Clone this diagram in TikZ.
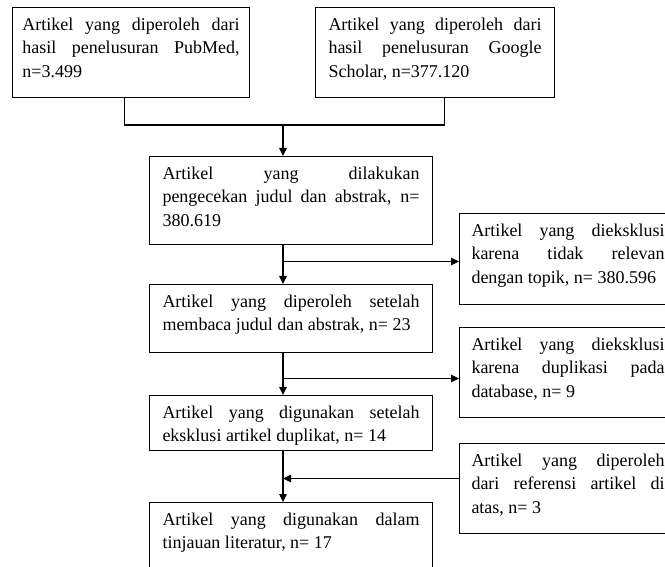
\documentclass[tikz,border=0pt]{standalone}
\usepackage{fontspec}
\setmainfont{Liberation Serif}
\usetikzlibrary{arrows.meta}

\begin{document}
\begin{tikzpicture}[
  x=1pt, y=-1pt,
  flow/.style={draw, line width=1pt, anchor=north west, inner xsep=13pt, inner ysep=10.5pt,
    font=\fontsize{18pt}{23.5pt}\selectfont},
  txt/.style 2 args={execute at begin node={\begin{minipage}[c][#2][t]{#1}},
    execute at end node={\end{minipage}}},
  link/.style={line width=1.1pt},
  arr/.style={link, -{Triangle[length=8pt, width=7.5pt]}}
]
  \useasboundingbox (0,0) rectangle (665,567);

  % sumber pencarian
  \node[flow, inner xsep=10pt, txt={217pt}{69pt}] (pubmed) at (12,7)
    {Artikel yang diperoleh dari\linebreak hasil penelusuran PubMed,\linebreak n=3.499};
  \node[flow, txt={213pt}{69pt}] (scholar) at (315,7)
    {Artikel yang diperoleh dari\linebreak hasil penelusuran Google\linebreak Scholar, n=377.120};

  % alur utama
  \node[flow, txt={257pt}{67pt}] (cek) at (149,156)
    {Artikel yang dilakukan\linebreak pengecekan judul dan abstrak, n=\linebreak 380.619};
  \node[flow, txt={257pt}{47pt}] (baca) at (149,284)
    {Artikel yang diperoleh setelah\linebreak membaca judul dan abstrak, n= 23};
  \node[flow, txt={257pt}{34pt}] (duplikat) at (149,395)
    {Artikel yang digunakan setelah\linebreak eksklusi artikel duplikat, n= 14};
  \node[flow, txt={257pt}{60pt}] (akhir) at (149,502)
    {Artikel yang digunakan dalam\linebreak tinjauan literatur, n= 17};

  % kotak samping
  \node[flow, inner xsep=12pt, txt={193pt}{70pt}] (relevan) at (459,213)
    {Artikel yang dieksklusi\linebreak karena tidak relevan\linebreak dengan topik, n= 380.596};
  \node[flow, inner xsep=12pt, txt={193pt}{69pt}] (dupdb) at (459,327)
    {Artikel yang dieksklusi\linebreak karena duplikasi pada\linebreak database, n= 9};
  \node[flow, inner xsep=12pt, txt={193pt}{69pt}] (referensi) at (459,443)
    {Artikel yang diperoleh\linebreak dari referensi artikel di\linebreak atas, n= 3};

  \coordinate (spine) at (283,0);
  \coordinate (merge) at (283,125);
  \coordinate (r1) at ([yshift=-2.5pt]relevan.west);
  \coordinate (r2) at ([yshift=-6pt]dupdb.west);
  \coordinate (r3) at ([yshift=10pt]referensi.west);

  \draw[link] ([xshift=-6.5pt]pubmed.south) |- (merge) -| ([xshift=9.5pt]scholar.south);
  \draw[arr] (merge) -- (cek.north -| merge);
  \draw[arr] (cek.south -| spine) -- (baca.north -| spine);
  \draw[arr] (r1 -| spine) -- (r1);
  \draw[arr] (baca.south -| spine) -- (duplikat.north -| spine);
  \draw[arr] (r2 -| spine) -- (r2);
  \draw[arr] (duplikat.south -| spine) -- (akhir.north -| spine);
  \draw[arr] (r3) -- (r3 -| spine);
\end{tikzpicture}
\end{document}
